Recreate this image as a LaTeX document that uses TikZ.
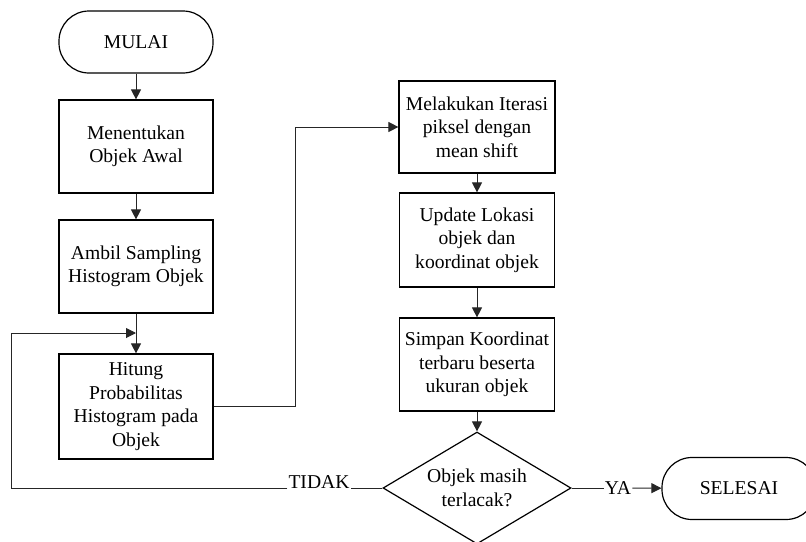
\documentclass[tikz,border=0pt]{standalone}
\usepackage{fontspec}
\setmainfont{Liberation Serif}
\usetikzlibrary{shapes.geometric,arrows.meta}
\begin{document}
\begin{tikzpicture}[x=1pt,y=-1pt,
  base/.style={draw=black,line width=1.2pt,align=center,inner sep=0pt,font=\fontsize{19.6}{23.5}\selectfont},
  procbox/.style={base,rectangle,minimum width=154pt},
  term/.style={base,rectangle,rounded corners=30pt,minimum width=154pt,minimum height=62pt},
  decision/.style={base,diamond,shape aspect=1.68,minimum width=188pt,minimum height=112pt},
  conn/.style={line width=1pt,draw=black!85},
  arr/.style={conn,-{Triangle[length=10pt,width=10pt]}},
  lbl/.style={font=\fontsize{19.6}{23.5}\selectfont,inner ysep=0pt,inner xsep=1pt}
]
\useasboundingbox (0,0) rectangle (806,541);
\clip (0,0) rectangle (806,541);

\node[term] (mulai) at (136,42) {MULAI};
\node[procbox,minimum height=93pt] (b1) at (136,146.5) {Menentukan\\Objek Awal};
\node[procbox,minimum height=93pt] (b2) at (136,266.5) {Ambil Sampling\\Histogram Objek};
\node[procbox,minimum height=105pt] (b3) at (136,406.5) {Hitung\\Probabilitas\\Histogram pada\\Objek};
\node[procbox,minimum width=156pt,minimum height=92pt] (b4) at (477,127) {Melakukan Iterasi\\piksel dengan\\mean shift};
\node[procbox,minimum width=155pt,minimum height=94pt] (b5) at (477,240) {Update Lokasi\\objek dan\\koordinat objek};
\node[procbox,minimum width=155pt,minimum height=93pt] (b6) at (477,364.5) {Simpan Koordinat\\terbaru beserta\\ukuran objek};
\node[decision] (dec) at (477,488) {Objek masih\\terlacak?};
\node[term] (selesai) at (739,488.5) {SELESAI};

\node[lbl,anchor=base] (tidak) at (319,488) {TIDAK};
\node[lbl] (ya) at (618,488) {YA};

\coordinate (bend) at (295,0);
\coordinate (lft) at (11,0);
\coordinate (jn) at (136,333);

\draw[arr] (mulai) -- (b1);
\draw[arr] (b1) -- (b2);
\draw[arr] (b2) -- (b3);
\draw[arr] (b3.east) -| (bend |- b4.west) -- (b4.west);
\draw[arr] (b4) -- (b5);
\draw[arr] (b5) -- (b6);
\draw[arr] (b6) -- (dec);
\draw[conn] (dec.west) -- (tidak.base east);
\draw[arr] (tidak.base west) -| (lft |- jn) -- (jn);
\draw[conn] (dec.east) -- (ya);
\draw[arr] (ya) -- (selesai);
\end{tikzpicture}
\end{document}
